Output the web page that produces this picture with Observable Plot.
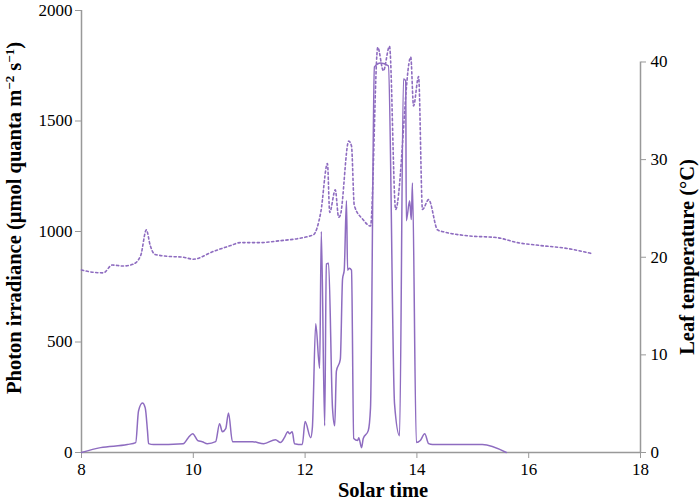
<!DOCTYPE html>
<html>
<head>
<meta charset="utf-8">
<script src="https://cdn.jsdelivr.net/npm/d3@7"></script>
<script src="https://cdn.jsdelivr.net/npm/@observablehq/plot@0.6"></script>
<style>
  html, body { margin: 0; padding: 0; background: #fff; }
  #chart { width: 700px; height: 501px; }
</style>
</head>
<body>
<div id="chart"></div>
<script>
// Photon irradiance (solid line)
const irrTime = [8.0, 8.34, 8.82, 8.97, 9.02, 9.09, 9.14, 9.18, 9.20, 9.29, 9.82, 9.91, 9.99, 10.08, 10.16, 10.25, 10.40, 10.47, 10.52, 10.58, 10.63, 10.70, 11.06, 11.26, 11.47, 11.56, 11.63, 11.69, 11.72, 11.77, 11.81, 11.95, 12.0, 12.10, 12.13, 12.19, 12.26, 12.29, 12.35, 12.38, 12.42, 12.49, 12.53, 12.56, 12.63, 12.67, 12.70, 12.74, 12.76, 12.79, 12.83, 12.87, 12.94, 12.96, 13.01, 13.04, 13.13, 13.17, 13.24, 13.35, 13.49, 13.60, 13.69, 13.76, 13.80, 13.81, 13.87, 13.90, 13.92, 13.99, 14.06, 14.14, 14.21, 14.28, 15.17, 15.60];
const irrValue = [0, 22, 36, 45, 188, 224, 202, 99, 40, 36, 40, 67, 85, 54, 49, 40, 49, 130, 94, 108, 179, 49, 49, 40, 58, 45, 67, 94, 85, 94, 40, 36, 140, 67, 112, 583, 381, 1000, 121, 852, 856, 202, 121, 368, 421, 785, 825, 1139, 825, 834, 825, 63, 54, 67, 22, 63, 99, 202, 1744, 1762, 1749, 220, 76, 1690, 1682, 1049, 1139, 1054, 1220, 45, 54, 85, 40, 36, 36, 0];

// Leaf temperature (dotted line)
const tempTime = [8.0, 8.16, 8.39, 8.55, 8.75, 8.93, 9.06, 9.16, 9.23, 9.31, 9.54, 9.82, 10.0, 10.36, 10.67, 10.84, 11.20, 11.56, 11.86, 12.10, 12.15, 12.28, 12.40, 12.44, 12.54, 12.60, 12.63, 12.78, 12.83, 12.88, 13.03, 13.17, 13.30, 13.40, 13.51, 13.62, 13.89, 13.94, 14.03, 14.10, 14.21, 14.37, 14.48, 14.91, 15.44, 15.80, 16.21, 16.69, 17.11];
const tempValue = [18.7, 18.5, 18.4, 19.2, 19.1, 19.3, 20.2, 22.8, 21.2, 20.3, 20.1, 20.0, 19.8, 20.6, 21.2, 21.5, 21.5, 21.7, 21.9, 22.2, 22.3, 24.6, 29.6, 24.6, 26.9, 24.1, 24.3, 31.9, 31.4, 25.3, 23.9, 23.2, 41.5, 39.1, 41.6, 24.9, 40.5, 35.5, 38.5, 24.9, 25.9, 22.8, 22.6, 22.2, 22.0, 21.5, 21.2, 20.9, 20.4];

const xTicks = [8, 10, 12, 14, 16, 18];
const yTicks = [0, 500, 1000, 1500, 2000];
const tTicks = [0, 10, 20, 30, 40];

const irr = irrTime.map((t, i) => ({t, v: irrValue[i]}));
const temp = tempTime.map((t, i) => ({t, v: tempValue[i]}));

// temperature scale factor onto left-axis units (40 °C ≈ 1767 units)
const k = 1767 / 40;
const lineColor = "#8e6cc0";
const axisColor = "#999";

const chart = Plot.plot({
  width: 700,
  height: 501,
  marginLeft: 81,
  marginRight: 60,
  marginTop: 10,
  marginBottom: 49,
  x: {domain: [8, 18]},
  y: {domain: [0, 2000]},
  style: {fontFamily: "Liberation Serif, serif", fontSize: "17px", color: "black", background: "white"},
  marks: [
    Plot.axisX({ticks: xTicks, tickSize: 6, tickPadding: 4, stroke: axisColor, fill: "black", label: null, tickFormat: d => String(d)}),
    Plot.axisY({ticks: yTicks, tickSize: 6, tickPadding: 3, stroke: axisColor, fill: "black", label: null, tickFormat: d => String(d)}),
    Plot.axisY(tTicks.map(d => d * k), {anchor: "right", tickSize: 5, tickPadding: 5, stroke: axisColor, fill: "black", label: null, tickFormat: d => String(Math.round(d / k))}),
    Plot.ruleY([0], {stroke: axisColor, strokeWidth: 1.5}),
    Plot.ruleX([8], {stroke: axisColor, strokeWidth: 1.5}),
    Plot.ruleX([18], {y1: 0, y2: 40 * k, stroke: axisColor, strokeWidth: 1.5}),
    Plot.line(temp, {x: "t", y: d => d.v * k, stroke: lineColor, strokeWidth: 1.6, strokeDasharray: "2.2,2.6", curve: "monotone-x"}),
    Plot.line(irr, {x: "t", y: "v", stroke: lineColor, strokeWidth: 1.5, curve: "monotone-x"})
  ]
});

const svg = d3.select(chart);
const titleStyle = (sel) => sel.attr("font-family", "Liberation Serif, serif").attr("font-weight", "bold").attr("font-size", "20.5px").attr("fill", "black");

// left title with superscripts
const lt = svg.append("text").attr("transform", "translate(21,218) rotate(-90)").attr("text-anchor", "middle").call(titleStyle);
lt.append("tspan").text("Photon irradiance (μmol quanta m");
lt.append("tspan").text("−2").attr("font-size", "13px").attr("dy", "-7");
lt.append("tspan").text(" s").attr("dy", "7");
lt.append("tspan").text("−1").attr("font-size", "13px").attr("dy", "-7");
lt.append("tspan").text(")").attr("dy", "7");

svg.append("text").attr("transform", "translate(694,257) rotate(-90)").attr("text-anchor", "middle").call(titleStyle).text("Leaf temperature (°C)");
svg.append("text").attr("x", 383).attr("y", 497).attr("text-anchor", "middle").call(titleStyle).text("Solar time");

document.getElementById("chart").appendChild(chart);
</script>
</body>
</html>
